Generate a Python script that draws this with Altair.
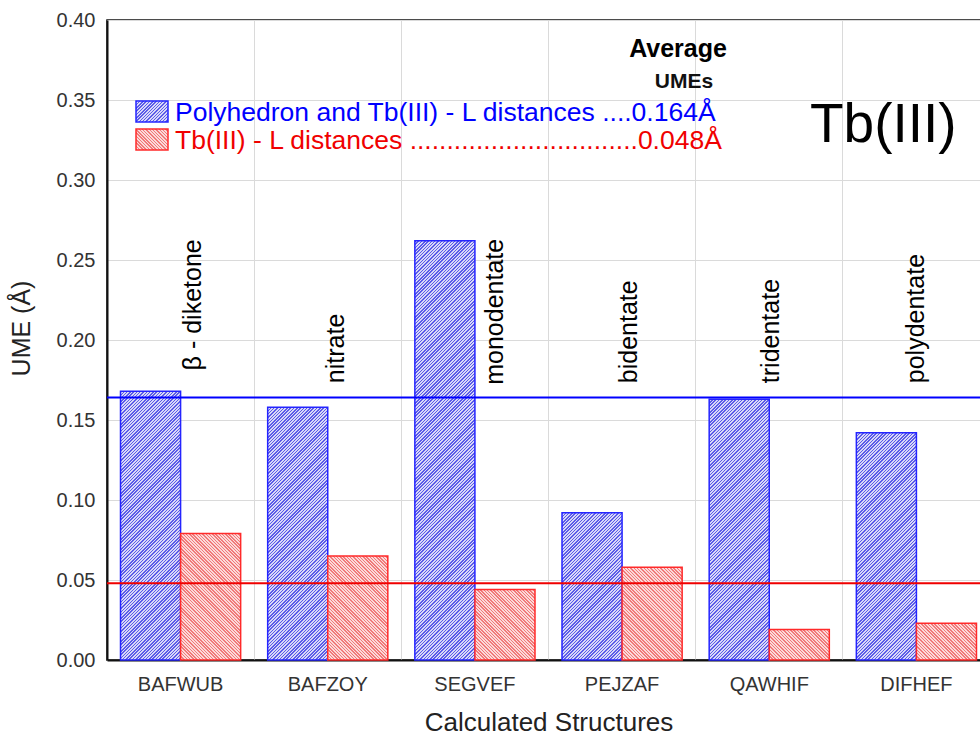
import altair as alt
import pandas as pd

# ---------------- data ----------------
structures = ["BAFWUB", "BAFZOY", "SEGVEF", "PEJZAF", "QAWHIF", "DIFHEF"]
ligand_types = ["β - diketone", "nitrate", "monodentate", "bidentate", "tridentate", "polydentate"]
series = ["Polyhedron and Tb(III) - L distances", "Tb(III) - L distances"]
ume_polyhedron = [0.168, 0.158, 0.262, 0.092, 0.163, 0.142]
ume_tb_l = [0.079, 0.065, 0.044, 0.058, 0.019, 0.023]
average_ume = [0.164, 0.048]
y_ticks = [0.0, 0.05, 0.10, 0.15, 0.20, 0.25, 0.30, 0.35, 0.40]

# ---------------- layout / style ----------------
FONT = "Liberation Sans"
PLOT_W, PLOT_H = 883, 640
Y_MAX = 0.40
STEP = PLOT_W / len(structures)
OUTER = 0.225
BAR_W = STEP / (2 + 2 * OUTER)
BLUE, RED = "#0000ff", "#f00000"
HATCH = {
    series[0]: dict(dark="#5c5ce8", light="#d8d8f8", stroke="#2424ff", up=True),
    series[1]: dict(dark="#f07a7a", light="#fcd9d9", stroke="#ff2a2a", up=False),
}


def hatch(w, h, dark, light, up, period=3.3, frac=0.45):
    n = max(1, round((w + h) / period))
    stops = []
    for i in range(n):
        a, b, c = i / n, (i + frac) / n, (i + 1) / n
        stops += [
            {"offset": a, "color": dark},
            {"offset": b, "color": dark},
            {"offset": b, "color": light},
            {"offset": c, "color": light},
        ]
    d = w * w + h * h
    gx = (w + h) * w / d
    gy = (w + h) * h / d
    if up:
        return {"gradient": "linear", "x1": 0, "y1": 0, "x2": gx, "y2": gy, "stops": stops}
    return {"gradient": "linear", "x1": 0, "y1": 1, "x2": gx, "y2": 1 - gy, "stops": stops}


df = pd.DataFrame({
    "structure": structures * 2,
    "series": [series[0]] * len(structures) + [series[1]] * len(structures),
    "ume": ume_polyhedron + ume_tb_l,
})

X = alt.X(
    "structure:N",
    scale=alt.Scale(domain=structures, paddingInner=0, paddingOuter=0),
    title="Calculated Structures",
    axis=alt.Axis(
        bandPosition=0, labelAngle=0, labelFontSize=20,
        labelColor="#333333", labelPadding=14, ticks=False, grid=True,
        gridColor="#dadada", gridWidth=1, domainColor="#111111", domainWidth=2,
        titleFontSize=26, titleFontWeight="normal", titleColor="#222222",
        titleX=PLOT_W / 2, titleY=70, titleBaseline="alphabetic",
    ),
)
XO = alt.XOffset("series:N", scale=alt.Scale(domain=series, paddingInner=0, paddingOuter=OUTER))
Y = alt.Y(
    "ume:Q",
    scale=alt.Scale(domain=[0, Y_MAX], nice=False),
    title="UME (Å)",
    axis=alt.Axis(
        values=y_ticks, format=".2f", labelFontSize=20, labelColor="#333333",
        labelPadding=12, ticks=False, grid=True, gridColor="#dadada", gridWidth=1,
        domainColor="#111111", domainWidth=2, titleFontSize=25,
        titleFontWeight="normal", titleColor="#222222", titleX=-78, titleY=308,
        titleAngle=270, titleBaseline="alphabetic", titleAlign="center",
    ),
)

layers = []
for _, row in df.iterrows():
    st = HATCH[row["series"]]
    h_px = row["ume"] * PLOT_H / Y_MAX
    layers.append(
        alt.Chart(df)
        .transform_filter((alt.datum.structure == row["structure"]) & (alt.datum.series == row["series"]))
        .mark_bar(fill=hatch(BAR_W, h_px, st["dark"], st["light"], st["up"]),
                  stroke=st["stroke"], strokeWidth=1.5)
        .encode(x=X, xOffset=XO, y=Y)
    )

avg_df = pd.DataFrame({"ume": average_ume, "series": series})
rules = alt.Chart(avg_df).mark_rule(strokeWidth=2).encode(
    y=alt.Y("ume:Q"),
    color=alt.Color("series:N", scale=alt.Scale(domain=series, range=[BLUE, RED]), legend=None),
)
layers.append(rules)

# rotated ligand-type annotations
lab_df = pd.DataFrame({"structure": structures, "ligand": ligand_types})
lab_shift = [12, 8, 20, 7, 2, 0]
lab_start = [0.181, 0.173, 0.172, 0.173, 0.173, 0.173]
for s, lig, dxs, ys in zip(structures, ligand_types, lab_shift, lab_start):
    layers.append(
        alt.Chart(lab_df)
        .transform_filter(alt.datum.structure == s)
        .mark_text(angle=270, align="left", baseline="middle", font=FONT, fontSize=25,
                   color="#000000", dy=dxs)
        .encode(x=alt.X("structure:N"), y=alt.datum(ys), text="ligand:N")
    )

one = pd.DataFrame({"k": [0]})

# legend swatches
for (s, y0) in zip(series, [101, 129]):
    st = HATCH[s]
    layers.append(
        alt.Chart(one).mark_rect(fill=hatch(32, 21, st["dark"], st["light"], st["up"]),
                                 stroke=st["stroke"], strokeWidth=1.5)
        .encode(x=alt.value(29), x2=alt.value(61), y=alt.value(y0 - 20), y2=alt.value(y0 + 1))
    )

legend_texts = [
    (series[0] + " ....0.164Å", BLUE, 101),
    (series[1] + " " + "." * 31 + "0.048Å", RED, 129),
]
for txt, col, yb in legend_texts:
    layers.append(
        alt.Chart(one).mark_text(align="left", baseline="alphabetic", font=FONT,
                                 fontSize=26.5, color=col)
        .encode(x=alt.value(68), y=alt.value(yb), text=alt.value(txt))
    )

layers.append(
    alt.Chart(one).mark_text(align="center", baseline="alphabetic", font=FONT,
                             fontSize=25, fontWeight="bold", color="#000000")
    .encode(x=alt.value(571), y=alt.value(37), text=alt.value("Average"))
)
layers.append(
    alt.Chart(one).mark_text(align="center", baseline="alphabetic", font=FONT,
                             fontSize=21, fontWeight="bold", color="#111111")
    .encode(x=alt.value(577), y=alt.value(68), text=alt.value("UMEs"))
)
layers.append(
    alt.Chart(one).mark_text(align="left", baseline="alphabetic", font=FONT,
                             fontSize=55, color="#000000")
    .encode(x=alt.value(703), y=alt.value(122), text=alt.value("Tb(III)"))
)

chart = (
    alt.layer(*layers)
    .properties(
        width=PLOT_W, height=PLOT_H, autosize="none",
        padding={"left": 107, "top": 20, "right": -10, "bottom": 78},
        background="#ffffff",
    )
    .configure_view(stroke="#111111", strokeWidth=1.5)
    .configure_axis(labelFont=FONT, titleFont=FONT)
)

chart.save("out.html", embed_options={"renderer": "svg", "actions": False})
